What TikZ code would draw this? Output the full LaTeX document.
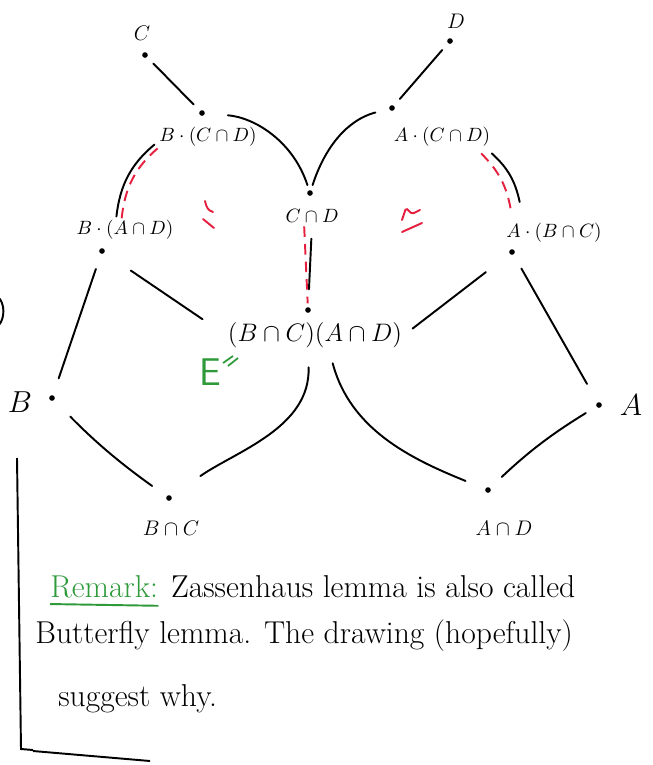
\documentclass[tikz,border=0pt]{standalone}
\usepackage{amsmath,amssymb}
\usetikzlibrary{positioning}
\definecolor{penred}{HTML}{E5203F}
\definecolor{pengreen}{HTML}{2F9A3A}
\tikzset{vertex/.style={circle,fill=black,inner sep=0pt,minimum size=3.2pt},
  grp/.style={inner sep=1pt,font=\fontsize{11}{13}\selectfont},
  link/.style={line width=1.1pt,line cap=round,shorten <=5pt,shorten >=5pt},
  normal/.style={draw=penred,line width=1.1pt,dash pattern=on 6pt off 4pt},
  nsign/.style={draw=penred,line width=1.1pt,line cap=round,rounded corners=1pt},
  remark/.style={inner sep=0pt,anchor=base west,font=\fontsize{18}{21}\selectfont}}

\begin{document}
\begin{tikzpicture}[x=0.02cm,y=0.02cm]
\useasboundingbox (0,0) rectangle (653,-765);
% the points
\node[vertex] (c) at (145,-55) {};
\node[vertex] (d) at (450,-41) {};
\node[vertex] (bcd) at (202,-113) {};
\node[vertex] (acd) at (392,-108) {};
\node[vertex] (cd) at (310,-193) {};
\node[vertex] (bad) at (102,-251) {};
\node[vertex] (abc) at (512,-252) {};
\node[vertex] (bcad) at (308,-310) {};
\node[vertex] (b) at (52,-398) {};
\node[vertex] (a) at (599,-405) {};
\node[vertex] (bc) at (169,-498) {};
\node[vertex] (ad) at (488,-490) {};
% their names
\node[grp,font=\large] (cL) at (142,-33) {$C$};
\node[grp,font=\large] (dL) at (456,-21) {$D$};
\node[grp] (bcdL) at (208,-137) {$B\cdot(C\cap D)$};
\node[grp] (acdL) at (442,-137) {$A\cdot(C\cap D)$};
\node[grp] (cdL) at (312,-216) {$C\cap D$};
\node[grp] (badL) at (125,-230) {$B\cdot(A\cap D)$};
\node[grp] (abcL) at (554,-233) {$A\cdot(B\cap C)$};
\node[grp,font=\fontsize{14}{16}\selectfont] (bcadL) at (315,-335) {$(B\cap C)(A\cap D)$};
\node[grp,font=\LARGE] (bL) at (20,-402) {$B$};
\node[grp,font=\LARGE] (aL) at (631,-405) {$A$};
\node[grp,font=\large] (bcL) at (171,-528) {$B\cap C$};
\node[grp,font=\large] (adL) at (504,-528) {$A\cap D$};
% upper wings
\draw[link] (c) -- (bcd);
\draw[link] (d) -- (acd);
\draw[link,shorten <=13pt,shorten >=3pt] (bcd) to[out=-5,in=108] (cd);
\draw[link,shorten <=8pt,shorten >=3pt] (acd) to[out=195,in=72] (cd);
\draw[link,shorten <=1pt,shorten >=2pt] ([xshift=-5pt]badL.north) to[bend left=22] ([yshift=-3pt]bcdL.west);
\draw[normal,shorten <=1pt,shorten >=2pt] ([xshift=-2pt,yshift=-1pt]badL.north) to[bend left=22] ([xshift=2pt,yshift=-5pt]bcdL.west);
\draw[link,shorten <=1pt,shorten >=1pt] ([xshift=-1pt,yshift=-2pt]acdL.south east) to[bend left=18] ([xshift=9pt,yshift=10pt]abcL.north west);
\draw[normal,shorten <=1pt,shorten >=1pt] ([xshift=-7pt,yshift=-2pt]acdL.south east) to[bend left=18] ([xshift=4pt,yshift=5pt]abcL.north west);
\draw[link,shorten <=8pt,shorten >=10pt] (cdL.south) -- (bcad);
\draw[normal,shorten <=1pt,shorten >=2pt] ([xshift=-4.5pt]cdL.south) -- ([xshift=-1.5pt]bcad);
% middle
\draw[link,shorten <=18pt,shorten >=16pt] (bad) -- (bcadL.west);
\draw[link,shorten <=17pt,shorten >=6pt] (abc) -- (bcadL.east);
\draw[link,shorten <=9pt,shorten >=10pt] (bad) -- (b);
\draw[link,shorten <=9pt,shorten >=12pt] (abc) -- (a);
% lower wings
\draw[link,shorten <=13pt,shorten >=10pt] (b) to[bend right=5] (bc);
\draw[link,shorten <=10pt,shorten >=20pt] ([xshift=-4pt]bcadL.south) to[out=-88,in=35] (bc);
\draw[link,shorten <=8pt,shorten >=12pt] ([xshift=8pt]bcadL.south) to[out=-75,in=158] (ad);
\draw[link,shorten <=7pt,shorten >=9pt] (a) to[bend right=6] (ad);
% normal signs
\draw[nsign] (205,-201) .. controls (207,-209) and (208,-210) .. (213,-212);
\draw[nsign] (203,-219) -- (214,-228);
\draw[nsign] (402,-220) -- (406,-208) -- (412,-214) -- (420,-210);
\draw[nsign] (402,-232) -- (422,-223);
\node[text=pengreen,font=\sffamily\fontsize{22}{24}\selectfont] (e) at (210,-372) {E};
\draw[pengreen,line width=1pt] (223,-363) -- (233,-356);
\draw[pengreen,line width=1pt] (228,-366) -- (238,-358);
% left edge
\draw[line width=1.1pt] (-2,-297) .. controls (5,-303) and (5,-318) .. (-1,-325);
% remark
\node[remark,text=pengreen] (rem) at (50,-597) {Remark:};
\draw[pengreen,line width=1.1pt] ([yshift=-4pt]rem.base west) -- ([yshift=-5pt]rem.base east);
\node[remark,right=7pt of rem.base east,anchor=base west] (l1) {Zassenhaus lemma is also called};
\node[remark] (l2) at (35,-643) {Butterfly lemma. The drawing (hopefully)};
\node[remark] (l3) at (58,-706) {suggest why.};
\draw[line width=1.1pt] (17,-458) -- (21,-749) -- (33,-750);
\draw[line width=1.1pt] (33,-751) -- (150,-761);
\end{tikzpicture}
\end{document}
